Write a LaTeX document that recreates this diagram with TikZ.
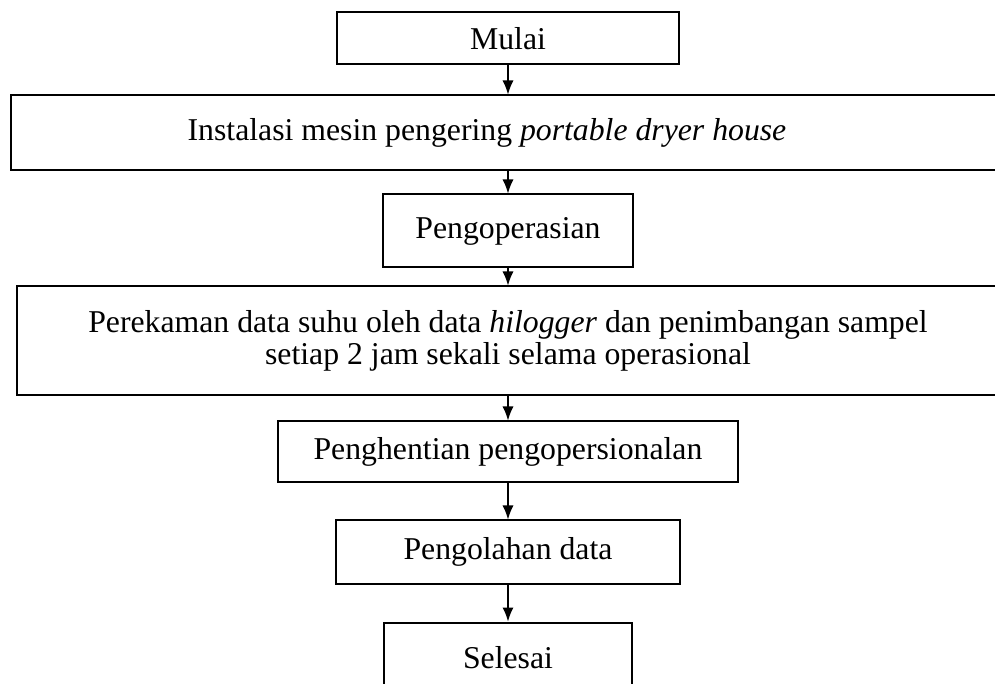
\documentclass[tikz,border=0pt]{standalone}
\usepackage{fontspec}
\setmainfont{Liberation Serif}
\usetikzlibrary{positioning,arrows.meta}

\begin{document}
\begin{tikzpicture}[
	x=0.4pt, y=-0.4pt,
	node distance=10pt and 0pt,
	stepbox/.style={draw, rectangle, line width=0.8pt, inner sep=0pt, align=center, font=\fontsize{12.7pt}{12.8pt}\selectfont},
	arr/.style={-{Latex[length=5.6pt,width=4.4pt]}, line width=0.5pt}
	]
	\useasboundingbox (0,0) rectangle (995,684);
	\clip (0,0) rectangle (995,684);
	
	\node[stepbox, minimum width=136.4pt, minimum height=20.8pt] (mulai) at (508,38.5) {Mulai};
	\node[stepbox, minimum width=397.6pt, minimum height=30pt, below=11.6pt of mulai] (instal) {Instalasi mesin pengering \textit{portable dryer house}\hspace*{16.8pt}};
	\node[stepbox, minimum width=100pt, minimum height=29.2pt, below=8.8pt of instal] (operasi) {Pengoperasian};
	\node[stepbox, minimum width=392.8pt, minimum height=43.6pt, below=6.8pt of operasi] (rekam) {Perekaman data suhu oleh data \textit{hilogger} dan penimbangan sampel\\setiap 2 jam sekali selama operasional};
	\node[stepbox, minimum width=184pt, minimum height=24.4pt, below=9.6pt of rekam] (henti) {Penghentian pengopersionalan};
	\node[stepbox, minimum width=137.2pt, minimum height=25.2pt, below=14.4pt of henti] (olah) {Pengolahan data};
	\node[stepbox, minimum width=99.2pt, minimum height=28pt, below=14.8pt of olah] (selesai) {Selesai};
	
	\draw[arr] (mulai) -- (instal);
	\draw[arr] (instal) -- (operasi);
	\draw[arr] (operasi) -- (rekam);
	\draw[arr] (rekam) -- (henti);
	\draw[arr] (henti) -- (olah);
	\draw[arr] (olah) -- (selesai);
	
\end{tikzpicture}
\end{document}
